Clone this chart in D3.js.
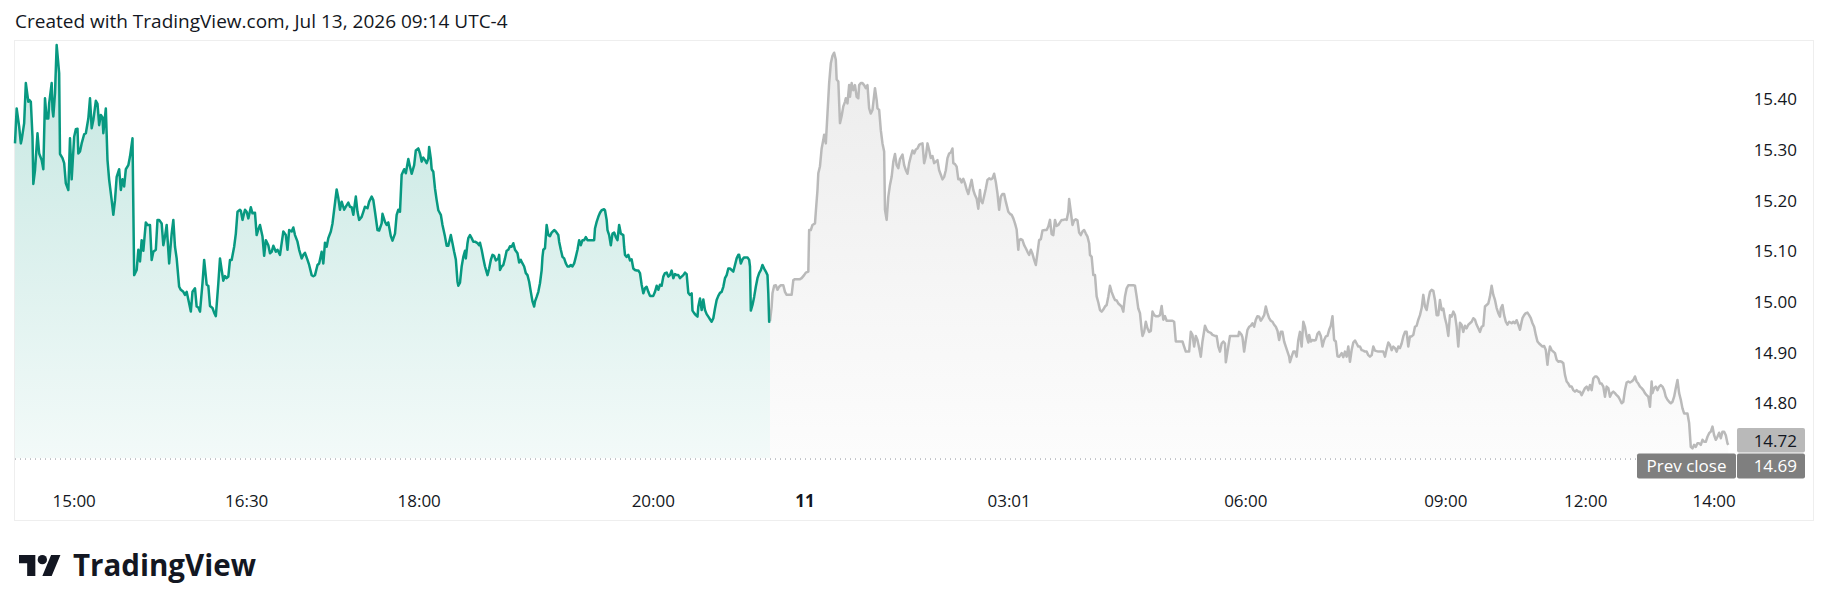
<!DOCTYPE html>
<html>
<head>
<meta charset="utf-8">
<script src="https://cdn.jsdelivr.net/npm/d3@7"></script>
<style>
  body { margin: 0; background: #fff; }
  text { font-family: "Open Sans", "Liberation Sans", Arial, sans-serif; }
</style>
</head>
<body>
<div id="chart"></div>
<script>
// regular session (green) - bar number and price
const sessionBars = [0,2,5,7,8,11,13,16,17,19,21,22,24,27,29,32,34,36,38,40,41,44,45,46,48,50,53,54,57,59,61,64,66,68,71,73,75,76,78,80,83,85,88,90,92,94,97,99,101,103,105,106,109,111,113,116,118,120,122,125,127,129,131,133,136,138,141,143,146,148,150,152,154,157,159,162,164,166,169,171,173,176,178,180,182,185,188,190,192,194,197,199,202,204,206,209,211,213,216,218,220,222,225,227,230,232,234,237,239,241,244,246,248,250,252,254,256,258,260,263,265,267,270,271,273,276,278,280,283,285,288,290,292,294,297,299,301,304,306,308,310,313,315,318,320,322,325,327,329,332,334,336,339,341,344,346,348,351,353,356,358,360,363,365,368,370,372,374,376,379,381,383,386,388,390,392,395,397,400,402,404,406,409,411,413,416,418,420,423,425,428,430,432,435,437,440,441,444,446,448,451,453,456,458,460,462,464,467,469,472,474,476,479,481,484,486,
  488,490,492,494,496,497,499,500,502,504,506,508,511,513,516,518,520,523,525,527,529,531,532,534,536,538,540,541,543,544,546,548,550,552,555,557,558,560,562,564,567,569,571,573,575,577,580,581,582,584,586,588,590,592,594,596,598,600,603,605,607,609,611,613,615,617,619,621,623,624,626,628,630,632,633,634,636,638,640,642,644,647,649,652,653,655,657,659,661,663,665,667,669,671,673,675,677,679,681,683,685,687,690,693,695,696,698,700,702,704,707,708,710,711,713,715,717,719,721,723,725,727,730,731,732,734,736,738,740,742,744,746,748,750,752,754,756,758,760,762,764,766,768,770,772,774,776,778,780,782,784,786,788,790,792,794,796,798,800,802,804,806,808,810,812,813,815,817,819,820,822,824,826,828,830,832,834,836,838,840,842,844,846,848,850,852,854,856,858,860,862,864,866,868,869,871,873,875,877,879,881,882,883,885,887,889,891,893,895,897,899,901,903,904,905,906];
const sessionPrices = [15.313,15.382,15.346,15.313,15.320,15.353,15.432,15.395,15.399,15.395,15.326,15.233,15.260,15.333,15.293,15.280,15.262,15.402,15.362,15.362,15.392,15.432,15.379,15.366,15.412,15.507,15.451,15.292,15.284,15.274,15.234,15.221,15.323,15.242,15.326,15.341,15.342,15.293,15.297,15.313,15.331,15.333,15.362,15.402,15.343,15.359,15.397,15.391,15.349,15.369,15.364,15.333,15.382,15.280,15.241,15.201,15.172,15.201,15.247,15.262,15.221,15.242,15.228,15.262,15.270,15.287,15.323,15.053,15.063,15.103,15.080,15.122,15.101,15.157,15.152,15.152,15.083,15.099,15.103,15.162,15.162,15.155,15.112,15.129,15.152,15.076,15.135,15.162,15.109,15.086,15.030,15.024,15.020,15.014,15.020,14.997,14.981,15.020,15.027,14.991,14.989,14.981,15.037,15.083,15.034,15.032,14.992,14.988,14.979,14.972,15.037,15.086,15.063,15.042,15.051,15.047,15.050,15.083,15.083,15.109,15.135,15.178,15.182,15.180,15.162,15.182,15.178,15.165,15.187,15.175,15.176,15.132,15.143,15.152,15.129,15.091,15.122,15.112,15.096,15.099,15.111,15.099,15.103,15.093,15.116,15.139,15.132,15.103,15.142,15.139,15.147,15.132,15.119,15.103,15.086,15.093,15.097,15.083,15.073,15.053,15.051,15.053,15.073,15.076,15.099,15.076,15.117,15.109,15.126,15.139,15.155,15.182,15.222,15.205,15.182,15.198,15.182,15.188,15.196,15.188,15.187,15.172,15.208,15.178,15.162,15.168,15.178,15.188,15.185,15.198,15.208,15.201,15.178,15.142,15.141,15.155,15.174,15.158,15.152,15.157,15.130,15.121,15.135,15.172,15.182,15.178,15.251,15.262,15.254,15.282,15.267,15.253,15.270,15.299,15.303,15.293,
  15.277,15.285,15.280,15.274,15.283,15.306,15.283,15.262,15.257,15.224,15.201,15.181,15.172,15.152,15.129,15.111,15.111,15.132,15.116,15.099,15.084,15.040,15.032,15.038,15.070,15.089,15.101,15.086,15.116,15.126,15.132,15.126,15.119,15.119,15.116,15.112,15.117,15.103,15.086,15.070,15.053,15.066,15.083,15.093,15.091,15.082,15.086,15.093,15.063,15.070,15.073,15.086,15.101,15.103,15.110,15.109,15.116,15.103,15.096,15.078,15.083,15.076,15.070,15.057,15.053,15.040,15.020,15.001,14.991,15.001,15.010,15.020,15.037,15.063,15.089,15.103,15.106,15.152,15.132,15.130,15.137,15.142,15.139,15.132,15.119,15.103,15.089,15.086,15.076,15.070,15.070,15.073,15.070,15.076,15.089,15.103,15.122,15.112,15.122,15.122,15.128,15.122,15.122,15.122,15.122,15.145,15.158,15.168,15.176,15.181,15.183,15.181,15.162,15.142,15.132,15.112,15.135,15.137,15.128,15.122,15.152,15.135,15.132,15.109,15.093,15.089,15.093,15.082,15.084,15.066,15.063,15.062,15.062,15.057,15.034,15.017,15.027,15.030,15.020,15.012,15.012,15.012,15.020,15.032,15.024,15.034,15.032,15.050,15.057,15.058,15.050,15.053,15.062,15.047,15.055,15.053,15.053,15.047,15.050,15.053,15.058,15.055,15.018,15.014,15.017,14.983,14.978,14.974,14.971,14.991,15.007,14.984,15.005,14.984,14.976,14.971,14.966,14.961,14.968,14.987,15.004,15.012,15.018,15.020,15.030,15.047,15.053,15.066,15.066,15.063,15.060,15.073,15.086,15.093,15.093,15.076,15.084,15.088,15.088,15.088,15.083,15.070,14.983,14.994,15.010,15.030,15.047,15.057,15.063,15.073,15.066,15.060,15.053,15.017,14.961,14.962];

// extended hours (grey) - bar number and price
const extBars = [906,908,909,911,913,915,917,919,922,924,926,929,932,934,936,939,942,944,947,949,952,953,955,957,960,961,963,964,966,968,970,971,973,975,977,979,981,983,985,986,988,990,992,994,996,997,999,1001,1002,1004,1006,1008,1010,1012,1013,1015,1017,1019,1021,1023,1025,1027,1029,1032,1034,1035,1037,1039,1041,1043,1044,1046,1048,1050,1052,1054,1056,1058,1060,1062,1065,1067,1069,1071,1073,1075,1077,1079,1081,1083,1085,1087,1089,1091,1093,1095,1097,1099,1101,1103,1105,1107,1109,1111,1113,1115,1117,1119,1121,1123,1125,1126,1128,1130,1132,1134,1136,1138,1140,1142,1144,1146,1148,1150,1152,1154,1156,1158,1159,1161,1163,1165,1167,1169,1171,1173,1175,1177,1179,1181,1183,1185,1187,1189,1192,1194,1196,1198,1200,1202,1204,1205,1207,1209,1211,1213,1215,1217,1219,1221,1223,1225,1227,1229,1231,1233,1236,1238,1240,1242,1244,1246,1248,1250,1252,1254,1256,1258,1260,1262,1264,1265,1267,1269,1271,1273,1275,1277,1279,1281,1283,1285,1287,1289,1290,1292,1294,1296,1298,1300,1302,1304,1306,1308,1310,1312,1314,1316,1318,1320,1322,1324,1326,1328,1330,1332,1334,1336,1338,1342,1344,1346,1348,1350,
  1352,1353,1355,1357,1359,1361,1363,1365,1367,1369,1372,1374,1376,1378,1380,1382,1386,1389,1391,1393,1396,1399,1401,1403,1405,1409,1411,1413,1415,1417,1419,1421,1423,1425,1428,1430,1432,1435,1437,1440,1442,1444,1446,1448,1450,1452,1453,1456,1458,1460,1463,1465,1468,1469,1472,1473,1475,1477,1479,1481,1483,1485,1487,1489,1491,1493,1495,1497,1499,1501,1503,1505,1507,1509,1511,1513,1515,1517,1519,1521,1523,1525,1527,1529,1530,1532,1534,1536,1538,1540,1542,1544,1546,1548,1550,1552,1553,1555,1557,1559,1561,1563,1565,1567,1569,1571,1573,1575,1577,1579,1581,1583,1585,1587,1589,1592,1594,1596,1598,1600,1602,1604,1606,1608,1610,1612,1614,1616,1618,1620,1622,1624,1626,1628,1630,1632,1634,1636,1640,1642,1644,1646,1648,1650,1652,1654,1656,1658,1660,1662,1664,1666,1668,1670,1672,1674,1676,1678,1680,1682,1684,1686,1688,1690,1692,1694,1696,1698,1700,1702,1704,1706,1708,1710,1712,1714,1716,1718,1720,1722,1724,1726,1728,1730,1732,1734,1736,1738,1740,1742,1744,1746,1748,1750,1752,1754,1756,1758,1760,1762,1764,1766,1768,1770,1772,1774,1776,1778,1780,1782,
  1783,1785,1787,1789,1791,1793,1796,1798,1800,1802,1804,1806,1808,1809,1811,1813,1815,1817,1819,1821,1823,1825,1827,1829,1831,1833,1835,1837,1839,1840,1842,1844,1846,1848,1850,1852,1854,1856,1858,1860,1862,1864,1866,1868,1870,1872,1874,1876,1878,1880,1882,1884,1886,1888,1890,1892,1894,1896,1898,1900,1902,1904,1906,1908,1910,1912,1914,1916,1918,1920,1922,1924,1926,1928,1930,1932,1934,1936,1938,1940,1942,1944,1946,1948,1950,1952,1954,1956,1958,1960,1962,1964,1965,1967,1969,1971,1973,1975,1977,1979,1981,1983,1985,1987,1989,1991,1993,1995,1997,1999,2001,2003,2007,2009,2011,2013,2015,2017,2019,2021,2023,2025,2027,2029,2031,2033,2035,2037,2039,2041,2043,2045,2047,2049,2051,2053,2055,2056];
const extPrices = [14.962,14.991,15.017,15.032,15.033,15.024,15.030,15.033,15.033,15.020,15.014,15.014,15.014,15.043,15.045,15.045,15.045,15.047,15.053,15.058,15.060,15.142,15.142,15.152,15.155,15.178,15.221,15.254,15.268,15.303,15.320,15.330,15.313,15.372,15.432,15.471,15.486,15.492,15.478,15.439,15.435,15.353,15.367,15.386,15.395,15.402,15.392,15.428,15.405,15.432,15.418,15.428,15.405,15.402,15.428,15.432,15.432,15.428,15.422,15.428,15.382,15.372,15.379,15.422,15.399,15.382,15.379,15.339,15.313,15.297,15.182,15.162,15.208,15.231,15.247,15.277,15.292,15.270,15.264,15.282,15.291,15.270,15.260,15.253,15.274,15.287,15.299,15.293,15.301,15.303,15.310,15.312,15.313,15.274,15.287,15.313,15.300,15.284,15.288,15.274,15.277,15.280,15.260,15.251,15.242,15.247,15.260,15.284,15.293,15.295,15.303,15.274,15.272,15.267,15.242,15.243,15.236,15.243,15.234,15.222,15.213,15.228,15.241,15.221,15.211,15.204,15.184,15.221,15.201,15.195,15.209,15.224,15.241,15.244,15.242,15.244,15.253,15.237,15.214,15.182,15.208,15.213,15.213,15.198,15.178,15.174,15.172,15.165,15.155,15.143,15.103,15.122,15.124,15.122,15.112,15.106,15.099,15.093,15.103,15.095,15.083,15.073,15.097,15.122,15.124,15.141,15.142,15.142,15.149,15.162,15.134,15.132,15.162,15.150,15.152,15.157,15.162,15.162,15.163,15.162,15.178,15.203,15.178,15.152,15.161,15.163,15.161,15.137,15.132,15.139,15.142,15.135,15.129,15.116,15.093,15.089,15.053,15.053,15.011,14.999,14.984,14.981,14.985,14.991,14.994,15.011,15.032,15.020,15.011,15.004,15.003,14.997,14.994,14.991,14.981,15.011,15.027,15.033,15.033,15.033,15.032,15.011,14.987,14.978,
  14.945,14.933,14.941,14.961,14.948,14.941,14.943,14.981,14.974,14.972,14.972,14.974,14.992,14.965,14.972,14.963,14.963,14.963,14.961,14.922,14.922,14.922,14.922,14.912,14.902,14.902,14.941,14.935,14.912,14.933,14.925,14.909,14.892,14.922,14.953,14.945,14.941,14.939,14.935,14.933,14.933,14.912,14.902,14.918,14.922,14.918,14.881,14.912,14.933,14.933,14.933,14.933,14.933,14.941,14.935,14.930,14.902,14.925,14.945,14.951,14.953,14.958,14.951,14.965,14.972,14.971,14.963,14.968,14.974,14.991,14.978,14.968,14.963,14.961,14.955,14.951,14.943,14.925,14.941,14.941,14.922,14.912,14.902,14.892,14.881,14.892,14.902,14.902,14.892,14.925,14.941,14.912,14.961,14.951,14.932,14.920,14.935,14.922,14.925,14.924,14.925,14.937,14.941,14.933,14.912,14.925,14.932,14.933,14.945,14.953,14.972,14.925,14.922,14.893,14.892,14.899,14.891,14.902,14.892,14.912,14.882,14.905,14.920,14.924,14.918,14.912,14.912,14.905,14.904,14.902,14.902,14.895,14.892,14.895,14.912,14.904,14.903,14.902,14.902,14.902,14.892,14.907,14.920,14.915,14.905,14.912,14.909,14.902,14.912,14.909,14.918,14.932,14.941,14.941,14.912,14.932,14.932,14.935,14.951,14.953,14.965,14.974,14.988,15.014,14.991,14.984,15.004,15.020,15.024,15.022,15.004,14.974,14.974,15.004,14.984,14.987,14.968,14.955,14.933,14.974,14.971,14.981,14.974,14.951,14.912,14.959,14.955,14.941,14.953,14.948,14.955,14.958,14.961,14.968,14.965,14.955,14.948,14.941,14.951,14.953,14.991,14.994,14.997,15.011,15.032,15.014,15.004,14.988,14.978,14.971,
  14.987,14.994,14.974,14.961,14.955,14.961,14.958,14.961,14.958,14.964,14.955,14.945,14.961,14.968,14.974,14.978,14.979,14.974,14.968,14.958,14.951,14.935,14.922,14.918,14.915,14.912,14.913,14.905,14.876,14.892,14.912,14.905,14.902,14.899,14.886,14.882,14.883,14.882,14.879,14.856,14.843,14.839,14.833,14.833,14.826,14.823,14.826,14.823,14.823,14.816,14.823,14.830,14.833,14.826,14.836,14.826,14.849,14.853,14.853,14.849,14.839,14.839,14.833,14.813,14.833,14.830,14.813,14.820,14.823,14.820,14.816,14.813,14.807,14.800,14.803,14.826,14.841,14.843,14.841,14.843,14.846,14.853,14.843,14.839,14.833,14.830,14.826,14.820,14.816,14.813,14.793,14.843,14.820,14.830,14.833,14.826,14.833,14.836,14.833,14.826,14.813,14.807,14.803,14.800,14.803,14.813,14.830,14.846,14.820,14.807,14.790,14.780,14.780,14.761,14.714,14.711,14.718,14.714,14.721,14.721,14.718,14.728,14.724,14.724,14.734,14.741,14.744,14.754,14.737,14.728,14.734,14.742,14.731,14.744,14.744,14.737,14.721,14.718];

const priceTicks = [14.8, 14.9, 15.0, 15.1, 15.2, 15.3, 15.4];
const timeTickBars = [71, 278, 485, 766, 948, 1193, 1477, 1717, 1885, 2039];
const timeTickLabels = ["15:00", "16:30", "18:00", "20:00", "11", "03:01", "06:00", "09:00", "12:00", "14:00"];
const lastPrice = 14.72;
const prevClose = 14.69;
const title = "Created with TradingView.com, Jul 13, 2026 09:14 UTC-4";

const width = 1830, height = 611;
const svg = d3.select("#chart").append("svg")
    .attr("width", width)
    .attr("height", height);

const x = d3.scaleLinear().domain([0, 2056]).range([15, 1728.3]);
const y = d3.scaleLinear().domain([14.8, 15.4]).range([403.3, 99.3]);
const fillBottom = 458;
const fontSize = 17;

// gradients for the two areas
const defs = svg.append("defs");
function addGradient(id, color, top, bottom) {
    const g = defs.append("linearGradient")
        .attr("id", id)
        .attr("gradientUnits", "userSpaceOnUse")
        .attr("x1", 0).attr("x2", 0)
        .attr("y1", 40).attr("y2", fillBottom);
    g.append("stop").attr("offset", 0).attr("stop-color", color).attr("stop-opacity", top);
    g.append("stop").attr("offset", 1).attr("stop-color", color).attr("stop-opacity", bottom);
}
addGradient("greenFill", "#089981", 0.24, 0.05);
addGradient("greyFill", "#9e9e9e", 0.2, 0.03);

// frame
svg.append("rect")
    .attr("x", 14.5).attr("y", 40.5)
    .attr("width", 1799).attr("height", 480)
    .attr("fill", "none")
    .attr("stroke", "#eeeeee");

// title
svg.append("text")
    .attr("x", 15).attr("y", 28)
    .attr("font-size", 19)
    .attr("fill", "#131722")
    .text(title);

function drawSeries(bars, prices, lineColor, fillId) {
    const pts = bars.map((b, i) => [b, prices[i]]);
    const area = d3.area()
        .x(d => x(d[0]))
        .y0(fillBottom)
        .y1(d => y(d[1]));
    const line = d3.line()
        .x(d => x(d[0]))
        .y(d => y(d[1]));
    svg.append("path")
        .attr("d", area(pts))
        .attr("fill", `url(#${fillId})`);
    return () => svg.append("path")
        .attr("d", line(pts))
        .attr("fill", "none")
        .attr("stroke", lineColor)
        .attr("stroke-width", 2.5)
        .attr("stroke-linejoin", "round");
}
const drawGreenLine = drawSeries(sessionBars, sessionPrices, "#089981", "greenFill");
const drawGreyLine = drawSeries(extBars, extPrices, "#bababa", "greyFill");

// prev close dotted line
svg.append("line")
    .attr("x1", 15).attr("x2", 1636)
    .attr("y1", y(prevClose)).attr("y2", y(prevClose))
    .attr("stroke", "#8a8d96")
    .attr("stroke-width", 1)
    .attr("stroke-dasharray", "1,4");

drawGreyLine();
drawGreenLine();

// price axis labels
svg.append("g").selectAll("text")
    .data(priceTicks)
    .enter().append("text")
    .attr("x", 1797)
    .attr("y", d => y(d))
    .attr("dy", "0.36em")
    .attr("text-anchor", "end")
    .attr("font-size", fontSize)
    .attr("fill", "#131722")
    .text(d => d.toFixed(2));

// last price + prev close labels, stacked so they don't overlap
const boxH = 25;
const mid = (y(lastPrice) + y(prevClose)) / 2 + 1.5;
const lastG = svg.append("g");
lastG.append("rect")
    .attr("x", 1737).attr("y", mid - boxH)
    .attr("width", 68).attr("height", boxH - 0.5)
    .attr("rx", 2)
    .attr("fill", "#b9b9b9");
lastG.append("text")
    .attr("x", 1797).attr("y", mid - boxH / 2)
    .attr("dy", "0.36em")
    .attr("text-anchor", "end")
    .attr("font-size", fontSize)
    .attr("fill", "#131722")
    .text(lastPrice.toFixed(2));

const prevG = svg.append("g");
prevG.append("rect")
    .attr("x", 1637).attr("y", mid + 0.5)
    .attr("width", 99).attr("height", boxH)
    .attr("rx", 2)
    .attr("fill", "#7f7f7f");
prevG.append("rect")
    .attr("x", 1737).attr("y", mid + 0.5)
    .attr("width", 68).attr("height", boxH)
    .attr("rx", 2)
    .attr("fill", "#7f7f7f");
prevG.append("text")
    .attr("x", 1686.5).attr("y", mid + 0.5 + boxH / 2)
    .attr("dy", "0.36em")
    .attr("text-anchor", "middle")
    .attr("font-size", fontSize)
    .attr("fill", "#ffffff")
    .text("Prev close");
prevG.append("text")
    .attr("x", 1797).attr("y", mid + 0.5 + boxH / 2)
    .attr("dy", "0.36em")
    .attr("text-anchor", "end")
    .attr("font-size", fontSize)
    .attr("fill", "#ffffff")
    .text(prevClose.toFixed(2));

// time axis labels
svg.append("g").selectAll("text")
    .data(timeTickBars)
    .enter().append("text")
    .attr("x", d => x(d))
    .attr("y", 507)
    .attr("text-anchor", "middle")
    .attr("font-size", fontSize)
    .attr("font-weight", (d, i) => timeTickLabels[i].length < 3 ? "bold" : "normal")
    .attr("fill", "#131722")
    .text((d, i) => timeTickLabels[i]);

// TradingView logo
const logo = svg.append("g");
logo.append("g")
    .attr("transform", "translate(19,550.3) scale(1.167)")
    .attr("fill", "#131722")
    .call(g => {
        g.append("path").attr("d", "M14 22H7V11H0V4h14v18zM28 22h-8l7.5-18h8L28 22z");
        g.append("circle").attr("cx", 20).attr("cy", 8).attr("r", 4);
    });
logo.append("text")
    .attr("x", 73).attr("y", 576)
    .attr("font-size", 29.5)
    .attr("font-weight", 700)
    .attr("fill", "#131722")
    .text("TradingView");
</script>
</body>
</html>
